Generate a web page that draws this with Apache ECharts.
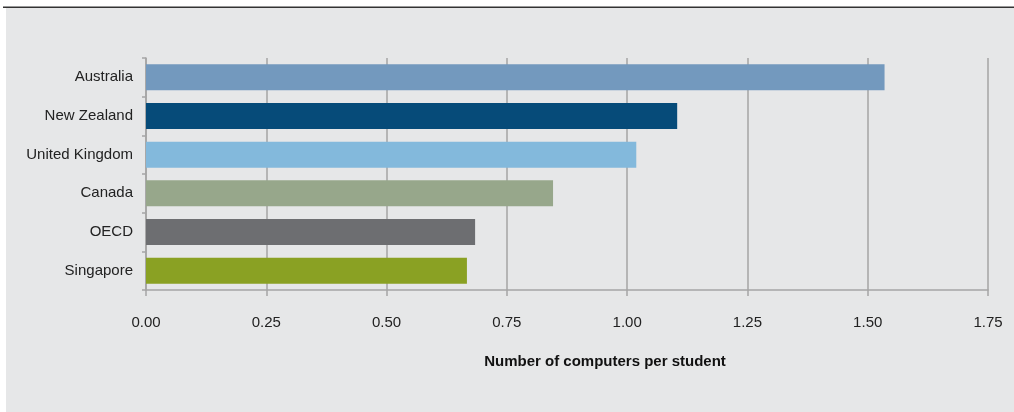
<!DOCTYPE html>
<html>
<head>
<meta charset="utf-8">
<script src="https://cdn.jsdelivr.net/npm/echarts@6/dist/echarts.min.js"></script>
<style>
html,body{margin:0;padding:0;background:#fff;}
#c{width:1014px;height:412px;}
</style>
</head>
<body>
<div id="c"></div>
<script>
const categories = ['Australia', 'New Zealand', 'United Kingdom', 'Canada', 'OECD', 'Singapore'];
const values = [1.535, 1.104, 1.019, 0.846, 0.684, 0.667];
const barColors = ['#7399be', '#064b79', '#83b9dc', '#97a78b', '#6d6e71', '#8aa123'];
const axisTitle = 'Number of computers per student';

const chart = echarts.init(document.getElementById('c'), null, {renderer: 'canvas'});
chart.setOption({
  backgroundColor: '#ffffff',
  animation: false,
  graphic: [
    {type: 'rect', z: -10, silent: true, shape: {x: 6, y: 8, width: 1008, height: 404}, style: {fill: '#e6e7e8'}},
    {type: 'rect', z: -9, silent: true, shape: {x: 3, y: 6.5, width: 1011, height: 1.5}, style: {fill: '#333333'}}
  ],
  title: {
    text: axisTitle,
    left: 600,
    top: 349,
    textAlign: 'center',
    textStyle: {fontFamily: 'Liberation Sans', fontSize: 15, fontWeight: 'bold', color: '#111'}
  },
  grid: {left: 146, right: 26, top: 58, bottom: 122, containLabel: false},
  xAxis: {
    type: 'value',
    min: 0, max: 1.75, interval: 0.25,
    axisLine: {show: true, lineStyle: {color: '#a5a5a5', width: 1.5}},
    axisTick: {show: true, length: 6, lineStyle: {color: '#a5a5a5', width: 1.5}},
    splitLine: {show: true, lineStyle: {color: '#a5a5a5', width: 1.5}},
    axisLabel: {
      margin: 25,
      fontFamily: 'Liberation Sans', fontSize: 15, color: '#222',
      formatter: v => v.toFixed(2)
    }
  },
  yAxis: {
    type: 'category',
    data: categories,
    inverse: true,
    axisLine: {show: true, lineStyle: {color: '#a5a5a5', width: 1.5}},
    axisTick: {show: true, length: 4, alignWithLabel: false, lineStyle: {color: '#a5a5a5', width: 1.5}},
    axisLabel: {margin: 13, fontFamily: 'Liberation Sans', fontSize: 15, color: '#222'}
  },
  series: [{
    type: 'bar',
    data: values.map((v, i) => ({value: v, itemStyle: {color: barColors[i]}})),
    barWidth: 26
  }]
});
</script>
</body>
</html>
